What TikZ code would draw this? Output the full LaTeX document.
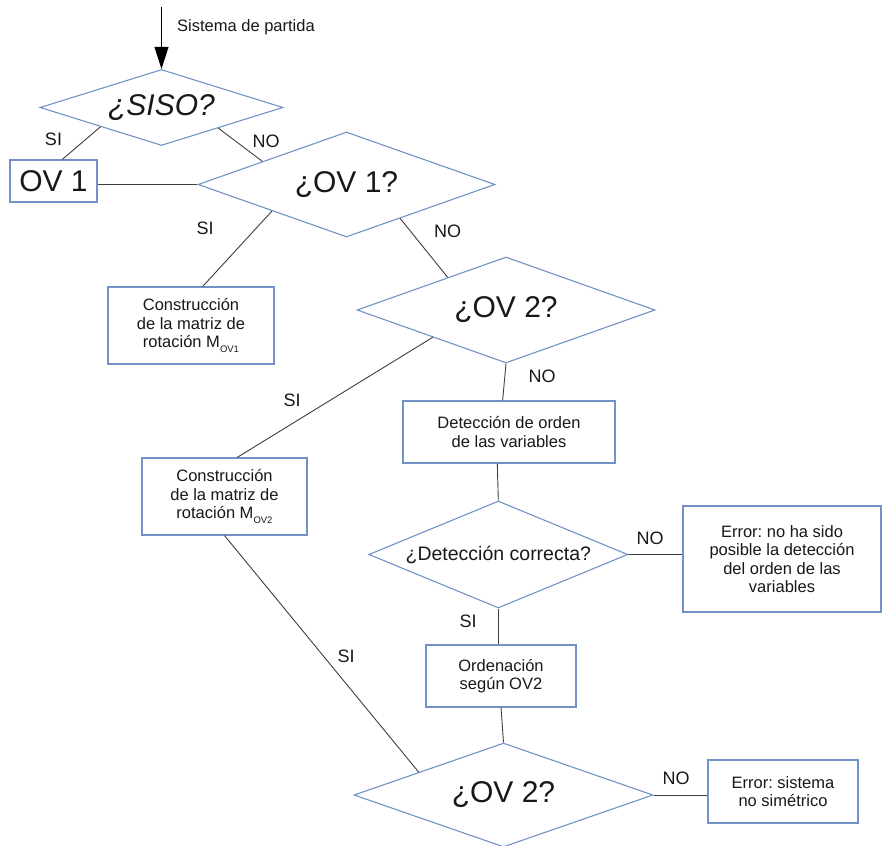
\documentclass[tikz,border=0pt]{standalone}
\usepackage{fontspec}
\setmainfont{Liberation Sans}
\usetikzlibrary{shapes.geometric,calc,arrows.meta}

\definecolor{edgeblue}{RGB}{114,146,199}
\definecolor{wire}{RGB}{62,62,62}
\definecolor{ink}{RGB}{24,24,24}

\newcommand\flowboxfont{\fontsize{16.5}{18.5}\selectfont}
\newcommand\bigq{\fontsize{30}{32}\selectfont}
\newcommand\sublabel[1]{\raisebox{-0.55ex}{\fontsize{9.5}{10}\selectfont #1}}

\frenchspacing
\begin{document}
\begin{tikzpicture}[x=1pt,y=-1pt,
  every node/.style={text=ink},
  decision/.style={draw=edgeblue, line width=1.1pt, diamond, aspect=2.8, inner sep=0pt},
  process/.style={draw=edgeblue, line width=1.1pt, rectangle, inner sep=0pt,
    align=center, font=\flowboxfont},
  wireline/.style={draw=wire, line width=0.9pt},
  branch/.style={font=\fontsize{18}{20}\selectfont, inner sep=0pt}
]
\useasboundingbox (0,0) rectangle (882,845);

% decisions
\node[decision, minimum width=243pt, minimum height=76pt] (siso) at (161.5,107.5) {\bigq\itshape ¿SISO?};
\node[decision, minimum width=297pt, minimum height=105pt] (ov1q) at (346.5,184.5) {\bigq ¿OV 1?};
\node[decision, minimum width=298pt, minimum height=106pt] (ov2q) at (506,310) {\bigq ¿OV 2?};
\node[decision, minimum width=259pt, minimum height=107pt] (detq) at (498.3,554.5) {\fontsize{19.5}{21}\selectfont ¿Detección correcta?};
\node[decision, minimum width=299pt, minimum height=104pt] (ov2b) at (503.5,795) {\bigq ¿OV 2?};

% process boxes
\node[process, minimum width=87pt, minimum height=42pt, font=\bigq] (ov1box) at (53.5,181) {OV 1};
\node[process, minimum width=166pt, minimum height=77pt] (rot1) at (191,325.5)
  {Construcción\\de la matriz de\\rotación M\sublabel{OV1}};
\node[process, minimum width=212pt, minimum height=62pt] (detbox) at (509,432)
  {Detección de orden\\de las variables};
\node[process, minimum width=165pt, minimum height=77pt] (rot2) at (224.5,496.5)
  {Construcción\\de la matriz de\\rotación M\sublabel{OV2}};
\node[process, minimum width=198pt, minimum height=106pt] (err1) at (782,559)
  {Error: no ha sido\\posible la detección\\del orden de las\\variables};
\node[process, minimum width=150pt, minimum height=62pt] (ordbox) at (501,676)
  {Ordenación\\según OV2};
\node[process, minimum width=150pt, minimum height=63pt] (err2) at (783,791.5)
  {Error: sistema\\no simétrico};

% entry arrow
\coordinate (entry) at (161.5,7);
\draw[draw=black, line width=1pt, -{Triangle[length=22pt,width=14pt]}] (entry) -- (siso.north);
\node[anchor=west, font=\flowboxfont, inner sep=0pt] (entrylabel) at (177,27) {Sistema de partida};

% connectors
\draw[wireline] (siso.south west) -- ($(ov1box.north west)!0.6!(ov1box.north east)$);
\draw[wireline] ($(siso.south)!0.465!(siso.east)$) -- ($(ov1q.west)!0.436!(ov1q.north)$);
\draw[wireline] (ov1box.east |- ov1q.west) -- (ov1q.west);
\draw[wireline] ($(ov1q.west)!0.5!(ov1q.south)$) -- ($(rot1.north west)!0.57!(rot1.north east)$);
\draw[wireline] ($(ov1q.south)!0.36!(ov1q.east)$) -- ($(ov2q.west)!0.61!(ov2q.north)$);
\draw[wireline] ($(ov2q.west)!0.51!(ov2q.south)$) -- ($(rot2.north west)!0.576!(rot2.north east)$);
\draw[wireline] (ov2q.south) -- ($(detbox.north west)!0.47!(detbox.north east)$);
\draw[wireline] ($(detbox.south west)!0.445!(detbox.south east)$) -- (detq.north);
\draw[wireline] (detq.east) -- (detq.east -| err1.west);
\draw[wireline] (detq.south) -- (detq.south |- ordbox.north);
\draw[wireline] (ordbox.south) -- (ov2b.north);
\draw[wireline] (rot2.south) -- ($(ov2b.west)!0.435!(ov2b.north)$);
\draw[wireline] (ov2b.east) -- (ov2b.east -| err2.west);

% branch labels
\node[branch] (l1) at (53.5,139) {SI};
\node[branch] (l2) at (266,141) {NO};
\node[branch] (l3) at (205,228) {SI};
\node[branch] (l4) at (447.5,231) {NO};
\node[branch] (l5) at (292,400) {SI};
\node[branch] (l6) at (542,376) {NO};
\node[branch] (l7) at (650,538) {NO};
\node[branch] (l8) at (468,621) {SI};
\node[branch] (l9) at (346,656) {SI};
\node[branch] (l10) at (676,778) {NO};
\end{tikzpicture}
\end{document}
